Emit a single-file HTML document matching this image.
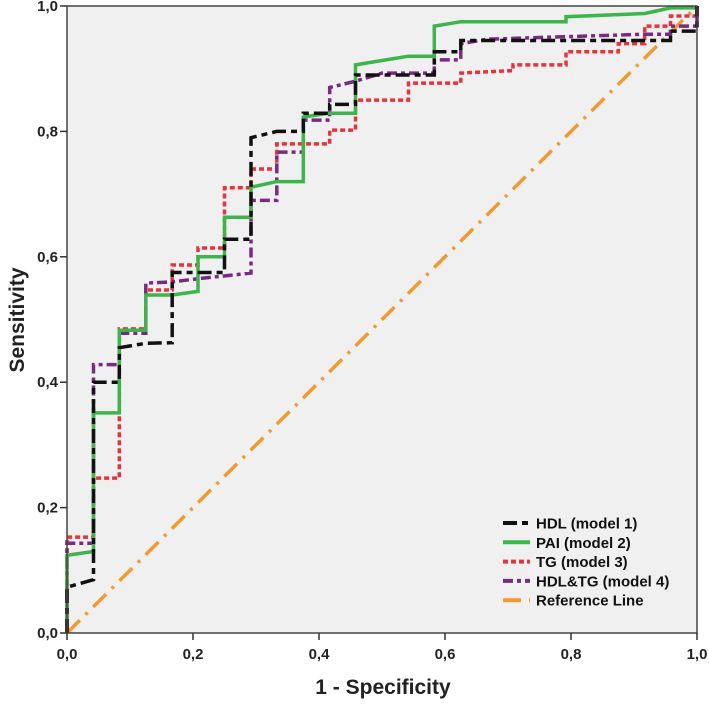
<!DOCTYPE html>
<html><head><meta charset="utf-8">
<style>
html,body{margin:0;padding:0;background:#fff;}
svg text{font-family:"Liberation Sans",Arial,sans-serif;}
</style></head>
<body>
<svg id="chart" width="709" height="701" viewBox="0 0 709 701" xmlns="http://www.w3.org/2000/svg">
  <rect x="67" y="6" width="630" height="627" fill="#f0f0f0"/>
  <g id="grid"></g>
  <g id="series"></g>
  <rect x="67" y="6" width="630" height="627" fill="none" stroke="#444" stroke-width="1.5"/>
  <g id="axes"></g>
  <text x="383" y="694" text-anchor="middle" font-size="21" font-weight="bold" fill="#222">1 - Specificity</text>
  <text transform="translate(24,320) rotate(-90)" text-anchor="middle" font-size="21" font-weight="bold" fill="#222">Sensitivity</text>
  <g id="legend"></g>
</svg>
<script>
const xTicks=[0,0.2,0.4,0.6,0.8,1.0];
const yTicks=[0,0.2,0.4,0.6,0.8,1.0];
const tickLabels=["0,0","0,2","0,4","0,6","0,8","1,0"];
const seriesNames=["HDL (model 1)","PAI (model 2)","TG (model 3)","HDL&TG (model 4)","Reference Line"];
const hdlX=[0,0,.042,.042,.083,.083,.125,.167,.167,.25,.25,.292,.292,.333,.375,.375,.417,.417,.458,.458,.583,.583,.625,.625,.958,.958,1,1];
const hdlY=[0,.073,.085,.40,.40,.455,.462,.463,.575,.575,.628,.628,.79,.80,.80,.829,.829,.843,.843,.89,.89,.927,.927,.945,.945,.96,.96,1];
const paiX=[0,0,.042,.042,.083,.083,.125,.125,.167,.208,.208,.25,.25,.292,.292,.333,.375,.375,.417,.458,.458,.5,.542,.583,.583,.625,.792,.792,.917,.958,1,1];
const paiY=[0,.124,.13,.351,.351,.483,.483,.539,.539,.545,.60,.60,.663,.663,.711,.72,.72,.823,.829,.829,.906,.913,.92,.92,.968,.975,.975,.983,.988,.997,.997,1];
const tgX=[0,0,.042,.042,.083,.083,.125,.125,.167,.167,.208,.208,.25,.25,.292,.292,.333,.333,.417,.417,.458,.458,.542,.542,.625,.625,.708,.708,.792,.792,.875,.875,.917,.917,.958,.958,1,1];
const tgY=[0,.153,.153,.247,.247,.485,.485,.547,.547,.587,.587,.614,.614,.71,.71,.74,.74,.78,.78,.802,.802,.85,.85,.877,.877,.893,.897,.906,.906,.927,.927,.94,.94,.968,.968,.984,.984,1];
const hdltgX=[0,0,.042,.042,.083,.083,.125,.125,.167,.208,.292,.292,.333,.333,.375,.375,.417,.417,.458,.5,.583,.583,.625,.625,.667,.917,.958,.958,1,1];
const hdltgY=[0,.143,.143,.428,.428,.478,.478,.558,.56,.565,.574,.69,.69,.767,.767,.818,.818,.87,.88,.893,.893,.914,.914,.94,.947,.955,.955,.968,.968,1];
const refX=[0,1];
const refY=[0,1];

const NS="http://www.w3.org/2000/svg";
const X0=67,X1=697,Y0=633,Y1=6;
const sx=v=>X0+v*(X1-X0);
const sy=v=>Y0-v*(Y0-Y1);
function mk(tag,attrs,parent){const e=document.createElementNS(NS,tag);for(const k in attrs)e.setAttribute(k,attrs[k]);parent.appendChild(e);return e;}
const axes=document.getElementById('axes');
xTicks.forEach((t,i)=>{
  const l=mk('line',{x1:sx(t),x2:sx(t),y1:Y0,y2:Y0+7,stroke:'#333','stroke-width':1.5},axes);
  
  
  const tx=mk('text',{x:sx(t),y:659,'text-anchor':'middle','font-size':15,'font-weight':'bold',fill:'#222'},axes);
  tx.textContent=tickLabels[i];
  
  
});
yTicks.forEach((t,i)=>{
  const l=mk('line',{x1:X0-7,x2:X0,y1:sy(t),y2:sy(t),stroke:'#333','stroke-width':1.5},axes);
  
  
  const tx=mk('text',{x:X0-9,y:sy(t)+5,'text-anchor':'end','font-size':15,'font-weight':'bold',fill:'#222'},axes);
  tx.textContent=tickLabels[i];
  
  
});
const styles=[
  {c:'#111',d:'14 5 6 5',w:3.5,n:'hdl-line'},
  {c:'#3cb54a',d:'',w:3.5,n:'pai-line'},
  {c:'#e8333a',d:'5 3',w:3.5,n:'tg-line'},
  {c:'#7b2a83',d:'10 4 4 4',w:3.5,n:'hdltg-line'},
  {c:'#f29a2e',d:'18 8 3 8',w:3.5,n:'reference-line'}
];
const data=[[hdlX,hdlY],[paiX,paiY],[tgX,tgY],[hdltgX,hdltgY],[refX,refY]];
const sg=document.getElementById('series');
[4,2,3,1,0].forEach(i=>{
  const [xs,ys]=data[i];
  const d=xs.map((v,j)=>(j?'L':'M')+sx(v).toFixed(1)+','+sy(ys[j]).toFixed(1)).join(' ');
  const p=mk('path',{d:d,fill:'none',stroke:styles[i].c,'stroke-width':styles[i].w,'stroke-dasharray':styles[i].d},sg);
  
  
});
const lg=document.getElementById('legend');
seriesNames.forEach((nm,i)=>{
  const y=523+i*19.3;
  const l=mk('line',{x1:503,x2:530,y1:y,y2:y,stroke:styles[i].c,'stroke-width':4,'stroke-dasharray':styles[i].d},lg);
  
  
  const t=mk('text',{x:536,y:y+5.5,'font-size':15,'font-weight':'bold',fill:'#111'},lg);
  t.textContent=nm;
  
  
});
</script>
</body></html>
